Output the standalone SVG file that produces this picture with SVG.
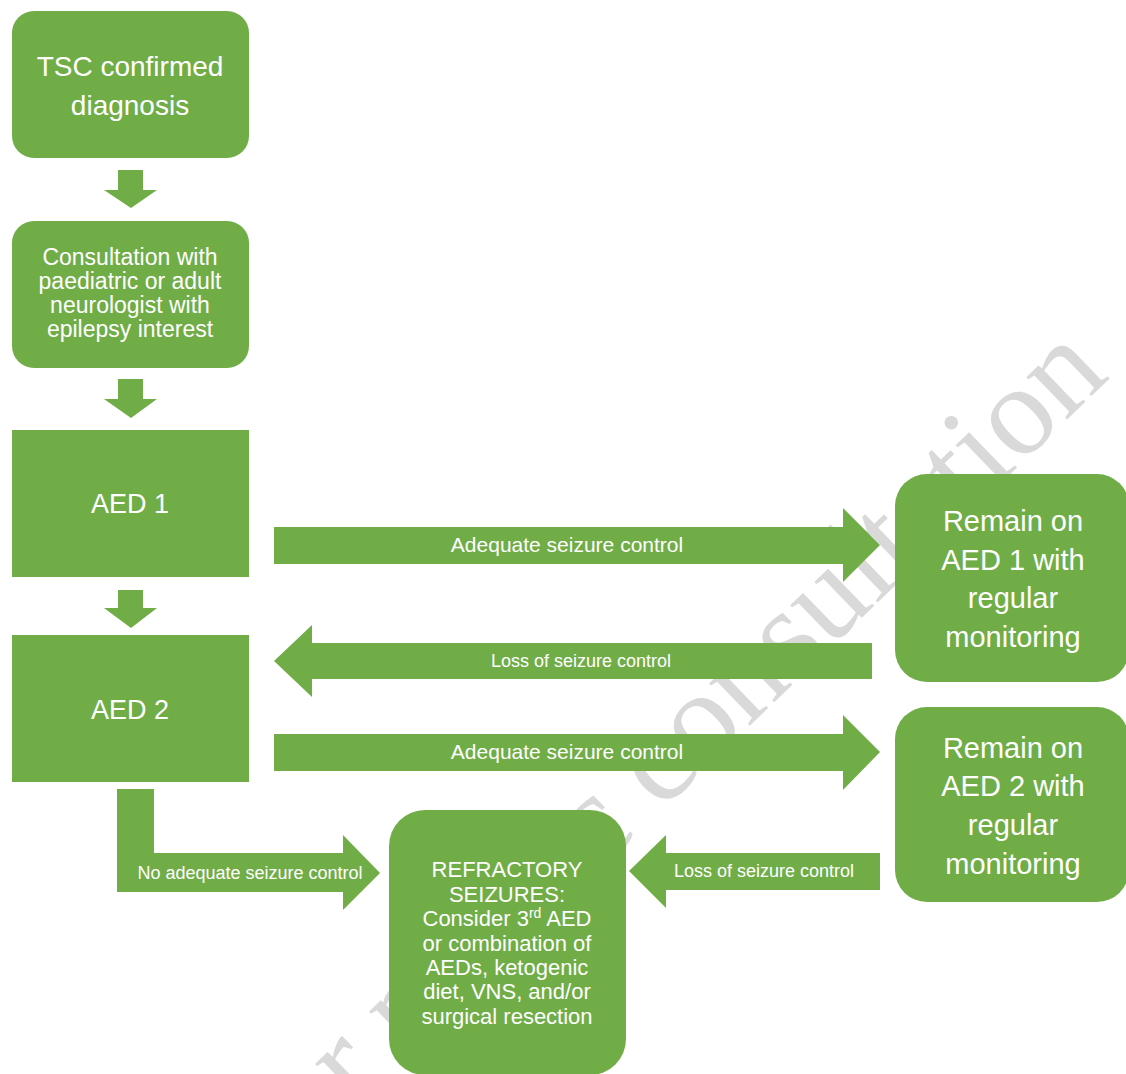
<svg xmlns="http://www.w3.org/2000/svg" width="1126" height="1074" viewBox="0 0 1126 1074">
<style>
.n{fill:#70AD47}
.a{fill:#70AD47}
text{font-family:"Liberation Sans",Arial,sans-serif;fill:#ffffff;text-anchor:middle}
.wm{font-family:"Liberation Serif","Times New Roman",serif;fill:#d9d9d9;text-anchor:end;font-size:128px}
</style>
<rect x="0" y="0" width="1126" height="1074" fill="#ffffff"/>
<text class="wm" transform="translate(1111,377) rotate(-44)">for public consultation</text>
<g id="connectors">
<polygon class="a" points="118,170 143,170 143,190 157,190 131,208 104,190 118,190"/>
<polygon class="a" points="118,379 143,379 143,399 157,399 131,418 104,399 118,399"/>
<polygon class="a" points="118,590 143,590 143,608 157,608 131,628 104,608 118,608"/>
<g id="e-aed1-remain1"><polygon class="a" points="274,527 843,527 843,508 880,545 843,582 843,564 274,564"/>
<text x="567" y="552" font-size="21">Adequate seizure control</text></g>
<g id="e-remain1-aed2"><polygon class="a" points="872,643 312,643 312,625 274,661 312,697 312,679 872,679"/>
<text x="581" y="667" font-size="18">Loss of seizure control</text></g>
<g id="e-aed2-remain2"><polygon class="a" points="274,734 843,734 843,715 880,752 843,790 843,771 274,771"/>
<text x="567" y="759" font-size="21">Adequate seizure control</text></g>
<g id="e-aed2-refr"><polygon class="a" points="117,789 154,789 154,853 343,853 343,835 380,873 343,910 343,892 117,892"/>
<text x="250" y="879" font-size="18">No adequate seizure control</text></g>
<g id="e-remain2-refr"><polygon class="a" points="880,853 666,853 666,835 629,871 666,908 666,890 880,890"/>
<text x="764" y="877" font-size="18">Loss of seizure control</text></g>
</g>
<g id="tsc">
<rect class="n" x="12" y="11" width="237" height="147" rx="22"/>
<text x="130" y="76" font-size="28">TSC confirmed</text>
<text x="130" y="115" font-size="28">diagnosis</text>
</g>
<g id="consult">
<rect class="n" x="12" y="221" width="237" height="147" rx="22"/>
<text x="130" y="265" font-size="23">Consultation with</text>
<text x="130" y="289" font-size="23">paediatric or adult</text>
<text x="130" y="313" font-size="23">neurologist with</text>
<text x="130" y="337" font-size="23">epilepsy interest</text>
</g>
<g id="aed1">
<rect class="n" x="12" y="430" width="237" height="147"/>
<text x="130" y="513" font-size="27">AED 1</text>
</g>
<g id="aed2">
<rect class="n" x="12" y="635" width="237" height="147"/>
<text x="130" y="719" font-size="27">AED 2</text>
</g>
<g id="remain1">
<rect class="n" x="895" y="474" width="234" height="208" rx="32"/>
<text x="1013" y="531" font-size="29">Remain on</text>
<text x="1013" y="570" font-size="29">AED 1 with</text>
<text x="1013" y="608" font-size="29">regular</text>
<text x="1013" y="647" font-size="29">monitoring</text>
</g>
<g id="remain2">
<rect class="n" x="895" y="707" width="234" height="195" rx="32"/>
<text x="1013" y="758" font-size="29">Remain on</text>
<text x="1013" y="796" font-size="29">AED 2 with</text>
<text x="1013" y="835" font-size="29">regular</text>
<text x="1013" y="874" font-size="29">monitoring</text>
</g>
<g id="refractory">
<rect class="n" x="389" y="810" width="237" height="265" rx="36"/>
<text x="507" y="877" font-size="22">REFRACTORY</text>
<text x="507" y="902" font-size="22">SEIZURES:</text>
<text x="507" y="926" font-size="22">Consider 3<tspan font-size="14" dy="-8">rd</tspan><tspan dy="8"> AED</tspan></text>
<text x="507" y="951" font-size="22">or combination of</text>
<text x="507" y="975" font-size="22">AEDs, ketogenic</text>
<text x="507" y="999" font-size="22">diet, VNS, and/or</text>
<text x="507" y="1024" font-size="22">surgical resection</text>
</g>
</svg>
